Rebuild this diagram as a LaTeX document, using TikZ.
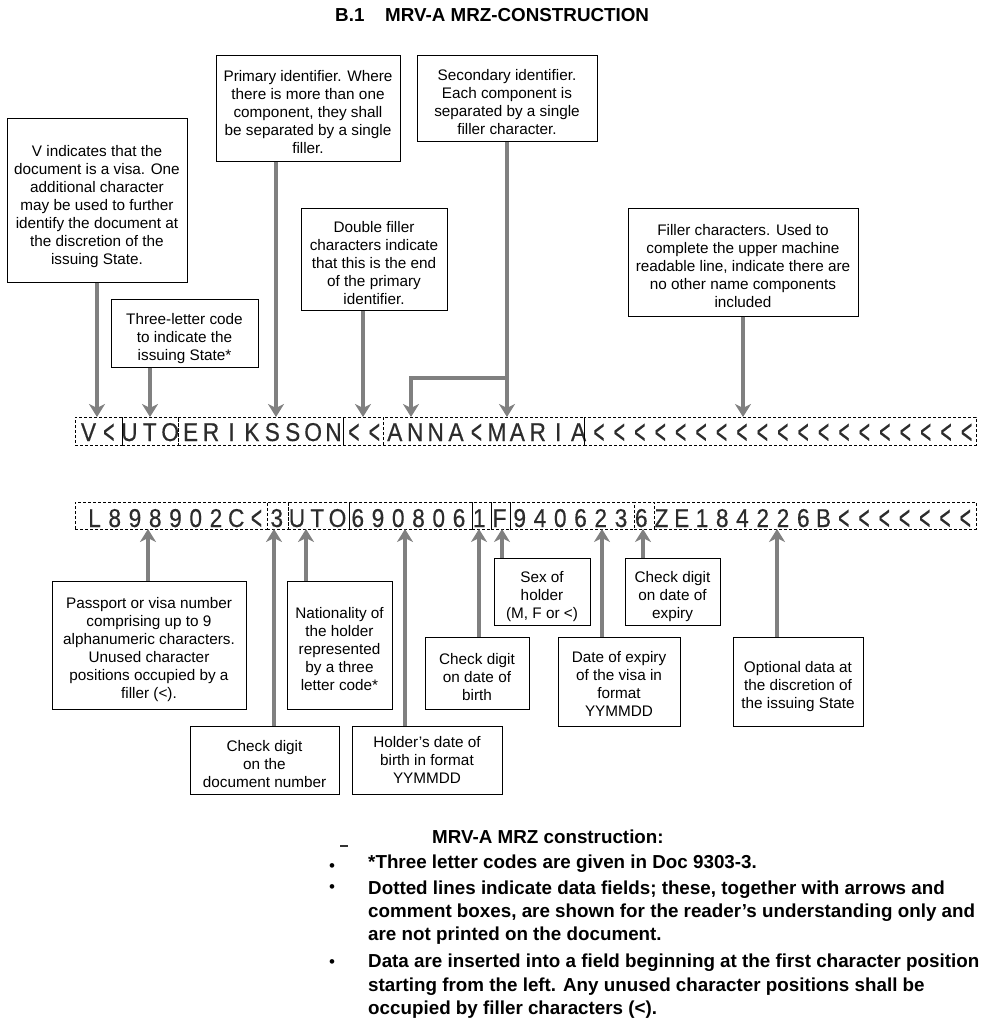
\documentclass[tikz,border=0pt]{standalone}
\usepackage{fontspec}
\setmainfont{Liberation Sans}
\newfontfamily\ocrA[FakeStretch=0.88,FakeBold=0.4]{Liberation Sans}
\usetikzlibrary{arrows.meta,fit}
\definecolor{arrgray}{HTML}{808080}
\definecolor{ocrgray}{HTML}{2C2C2C}
\newcommand\Fch{\raisebox{-2.5pt}{\scalebox{0.85}[1.32]{<}}}
\tikzset{
  box/.style={draw=black, line width=1pt, inner sep=0pt},
  boxtext/.style={align=center, inner sep=0pt, font=\fontsize{15.3}{18}\selectfont,
    execute at begin node=\strut, execute at end node=\strut},
  arr/.style={draw=arrgray, line width=3.5pt, -{Stealth[length=13pt,width=16pt,inset=4pt]}},
  field/.style={draw=black, dash pattern=on 3pt off 2pt, line width=0.9pt, inner sep=0pt},
  ocr/.style={font=\ocrA\fontsize{25.8}{28}\selectfont, text=ocrgray, inner sep=0pt, anchor=base},
  notes/.style={font=\bfseries\fontsize{18.8}{22}\selectfont, anchor=base west, inner sep=0pt},
  bul/.style={font=\fontsize{17}{19}\selectfont, anchor=base, inner sep=0pt},
}
\begin{document}
\begin{tikzpicture}[x=1pt,y=-1pt]
\useasboundingbox[fill=white] (0,0) rectangle (984,1032);

% title
\node[notes, anchor=mid west] (ttlnum) at (335,19) {B.1};
\node[notes, anchor=mid west] (ttl) at (385,19) {MRV-A MRZ-CONSTRUCTION};

% ---------- MRZ line 1 ----------
\foreach \c [count=\i from 0] in {V,\Fch,U,T,O,E,R,I,K,S,S,O,N,\Fch,\Fch,A,N,N,A,\Fch,M,A,R,I,A,\Fch,\Fch,\Fch,\Fch,\Fch,\Fch,\Fch,\Fch,\Fch,\Fch,\Fch,\Fch,\Fch,\Fch,\Fch,\Fch,\Fch,\Fch,\Fch}
  \node[ocr] (la\i) at ({88.5+20.42*\i},441) {\c};
\node[field, fit={(75,417) (122,445)}] (fa1) {};
\node[field, fit={(122,417) (178,445)}] (fa2) {};
\node[field, fit={(178,417) (343,445)}] (fa3) {};
\node[field, fit={(343,417) (383,445)}] (fa4) {};
\node[field, fit={(383,417) (584,445)}] (fa5) {};
\node[field, fit={(584,417) (976,445)}] (fa6) {};

% ---------- MRZ line 2 ----------
\foreach \c [count=\i from 0] in {L,8,9,8,9,0,2,C,\Fch,3,U,T,O,6,9,0,8,0,6,1,F,9,4,0,6,2,3,6,Z,E,1,8,4,2,2,6,B,\Fch,\Fch,\Fch,\Fch,\Fch,\Fch,\Fch}
  \node[ocr] (lb\i) at ({94.5+20.25*\i},527) {\c};
\node[field, fit={(75,502) (267,529)}] (fb1) {};
\node[field, fit={(267,502) (288,529)}] (fb2) {};
\node[field, fit={(288,502) (349,529)}] (fb3) {};
\node[field, fit={(349,502) (472,529)}] (fb4) {};
\node[field, fit={(472,502) (491,529)}] (fb5) {};
\node[field, fit={(491,502) (510,529)}] (fb6) {};
\node[field, fit={(510,502) (634,529)}] (fb7) {};
\node[field, fit={(634,502) (654,529)}] (fb8) {};
\node[field, fit={(654,502) (976,529)}] (fb9) {};

% arrow targets
\coordinate (ta1) at (97,417);
\coordinate (ta2) at (150,417);
\coordinate (ta3) at (276,417);
\coordinate (ta4) at (363,417);
\coordinate (ta5) at (411,417);
\coordinate (ta6) at (507,417);
\coordinate (ta7) at (743,417);
\coordinate (jn) at (507,378);
\coordinate (tb1) at (148,529);
\coordinate (tb2) at (274,529);
\coordinate (tb3) at (306,529);
\coordinate (tb4) at (405,529);
\coordinate (tb5) at (479,529);
\coordinate (tb6) at (502,529);
\coordinate (tb7) at (602,529);
\coordinate (tb8) at (643,529);
\coordinate (tb9) at (777,529);

% ---------- top boxes ----------
\node[box, fit={(7,119) (187,282)}] (bv) {};
\node[boxtext] (tv) at (97,208) {V indicates that the\\document is a visa. One\\additional character\\may be used to further\\identify the document at\\the discretion of the\\issuing State.};
\node[box, fit={(111,299) (258,367)}] (bst) {};
\node[boxtext] (tst) at (184.5,340) {Three-letter code\\to indicate the\\issuing State*};
\node[box, fit={(216,56) (400,162)}] (bpr) {};
\node[boxtext] (tpr) at (308,115) {Primary identifier. Where\\there is more than one\\component, they shall\\be separated by a single\\filler.};
\node[box, fit={(417,56) (597,142)}] (bse) {};
\node[boxtext] (tse) at (507,105) {Secondary identifier.\\Each component is\\separated by a single\\filler character.};
\node[box, fit={(301,209) (447,310)}] (bdf) {};
\node[boxtext] (tdf) at (374,266) {Double filler\\characters indicate\\that this is the end\\of the primary\\identifier.};
\node[box, fit={(628,209) (858,316)}] (bfi) {};
\node[boxtext] (tfi) at (743,269) {Filler characters. Used to\\complete the upper machine\\readable line, indicate there are\\no other name components\\included};

% ---------- bottom boxes ----------
\node[box, fit={(52,581) (246,709)}] (bpa) {};
\node[boxtext] (tpa) at (149,651) {Passport or visa number\\comprising up to 9\\alphanumeric characters.\\Unused character\\positions occupied by a\\filler (<).};
\node[box, fit={(190,726) (339,794)}] (bcd) {};
\node[boxtext] (tcd) at (264.5,767) {Check digit\\on the\\document number};
\node[box, fit={(287,581) (392,709)}] (bna) {};
\node[boxtext] (tna) at (339.5,652) {Nationality of\\the holder\\represented\\by a three\\letter code*};
\node[box, fit={(352,726) (502,794)}] (bdb) {};
\node[boxtext] (tdb) at (427,763) {Holder’s date of\\birth in format\\YYMMDD};
\node[box, fit={(425,637) (529,709)}] (bcb) {};
\node[boxtext] (tcb) at (477,680) {Check digit\\on date of\\birth};
\node[box, fit={(494,558) (590,625)}] (bsx) {};
\node[boxtext] (tsx) at (542,598) {Sex of\\holder\\(M, F or <)};
\node[box, fit={(625,558) (720,625)}] (bce) {};
\node[boxtext] (tce) at (672.5,598) {Check digit\\on date of\\expiry};
\node[box, fit={(558,637) (680,726)}] (bex) {};
\node[boxtext] (tex) at (619,687) {Date of expiry\\of the visa in\\format\\YYMMDD};
\node[box, fit={(733,637) (863,726)}] (bop) {};
\node[boxtext] (top) at (798,688) {Optional data at\\the discretion of\\the issuing State};

% ---------- arrows ----------
\draw[arr] (bv.south -| ta1) -- (ta1);
\draw[arr] (bst.south -| ta2) -- (ta2);
\draw[arr] (bpr.south -| ta3) -- (ta3);
\draw[arr] (bdf.south -| ta4) -- (ta4);
\draw[arr] (bse.south -| ta6) -- (ta6);
\draw[arr] (jn) -| (ta5);
\draw[arr] (bfi.south -| ta7) -- (ta7);

\draw[arr] (bpa.north -| tb1) -- (tb1);
\draw[arr] (bcd.north -| tb2) -- (tb2);
\draw[arr] (bna.north -| tb3) -- (tb3);
\draw[arr] (bdb.north -| tb4) -- (tb4);
\draw[arr] (bcb.north -| tb5) -- (tb5);
\draw[arr] (bsx.north -| tb6) -- (tb6);
\draw[arr] (bex.north -| tb7) -- (tb7);
\draw[arr] (bce.north -| tb8) -- (tb8);
\draw[arr] (bop.north -| tb9) -- (tb9);

% ---------- notes ----------
\draw[line width=1.3pt, black!80] (340,846) -- (348,846);
\node[notes] (nh) at (432,843.5) {MRV-A MRZ construction:};
\node[bul] (u1) at (332,871) {•};
\node[bul] (u2) at (332,892.7) {•};
\node[bul] (u3) at (332,967.7) {•};
\node[notes] (n1) at (368,868.5) {*Three letter codes are given in Doc 9303-3.};
\node[notes] (n2) at (368,894.5) {Dotted lines indicate data fields; these, together with arrows and};
\node[notes] (n3) at (368,917.5) {comment boxes, are shown for the reader’s understanding only and};
\node[notes] (n4) at (368,940.5) {are not printed on the document.};
\node[notes] (n5) at (368,967.5) {Data are inserted into a field beginning at the first character position};
\node[notes] (n6) at (368,991.5) {starting from the left. Any unused character positions shall be};
\node[notes] (n7) at (368,1014.5) {occupied by filler characters (<).};
\end{tikzpicture}
\end{document}
